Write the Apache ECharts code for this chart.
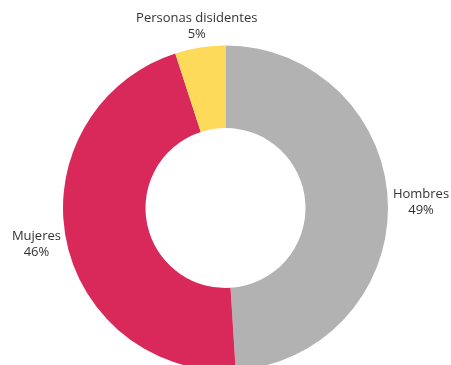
<!DOCTYPE html>
<html>
<head>
<meta charset="utf-8">
<script src="https://cdn.jsdelivr.net/npm/echarts@6/dist/echarts.min.js"></script>
<style>
  html, body { margin: 0; padding: 0; background: #fff; }
  #chart { width: 451px; height: 365px; }
</style>
</head>
<body>
<div id="chart"></div>
<script>
const categories = ['Hombres', 'Mujeres', 'Personas disidentes'];
const values = [49, 46, 5];
const colors = ['#B2B2B2', '#D8295A', '#FEDA5A'];

const chart = echarts.init(document.getElementById('chart'));

const cy = 208;
const outerR = 162.5;
const innerR = 80;
const total = values.reduce((a, b) => a + b, 0);

// mid angle of each slice (degrees, counter-clockwise from 3 o'clock)
function midAngle(idx) {
  let before = 0;
  for (let i = 0; i < idx; i++) before += values[i];
  const frac = (before + values[idx] / 2) / total;
  return 90 - frac * 360;
}

const option = {
  animation: false,
  series: [
    {
      type: 'pie',
      center: ['50%', cy],
      radius: [innerR, outerR],
      startAngle: 90,
      clockwise: true,
      avoidLabelOverlap: false,
      itemStyle: {
        borderWidth: 0,
      },
      label: {
        show: true,
        position: 'outside',
        formatter: '{b}\n{c}%',
        color: '#333',
        fontFamily: 'Open Sans',
        fontSize: 13,
        lineHeight: 16,
        align: 'center',
      },
      labelLine: {
        show: false,
      },
      // put the label box just outside the slice, along its middle ray
      labelLayout: function (p) {
        const a = midAngle(p.dataIndex) * Math.PI / 180;
        const cos = Math.cos(a);
        const sin = Math.sin(a);
        const cx = chart.getWidth() / 2;
        const gap = 5;
        const w = p.labelRect.width;
        const h = p.labelRect.height;
        const t = Math.min(
          Math.abs(cos) > 1e-6 ? (w / 2) / Math.abs(cos) : Infinity,
          Math.abs(sin) > 1e-6 ? (h / 2) / Math.abs(sin) : Infinity
        );
        const r = outerR + gap + t;
        return {
          x: cx + r * cos,
          y: cy - r * sin,
          align: 'center',
          verticalAlign: 'middle',
        };
      },
      data: categories.map((name, i) => ({
        name: name,
        value: values[i],
        itemStyle: { color: colors[i] },
      })),
    },
  ],
};

chart.setOption(option);
</script>
</body>
</html>
